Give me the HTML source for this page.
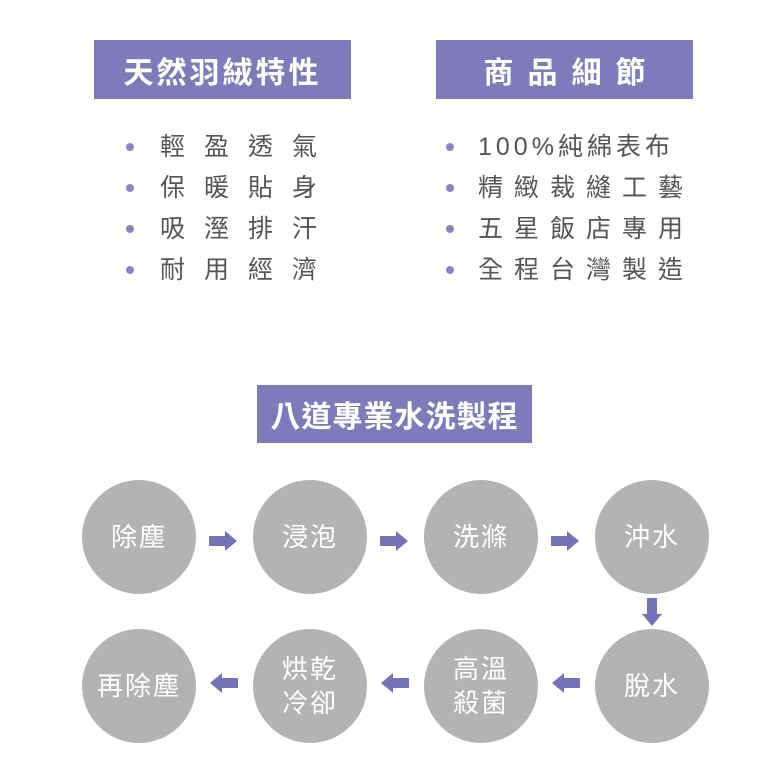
<!DOCTYPE html>
<html><head><meta charset="utf-8"><style>
body{margin:0;width:784px;height:784px;background:#fff;position:relative;overflow:hidden;font-family:"Liberation Sans","Noto Sans CJK TC",sans-serif}
.h{position:absolute;background:#7f7bbb;color:#fff;font-size:30px;font-weight:bold;text-align:center;display:flex;align-items:center;justify-content:center}
.li{position:absolute;font-size:25px;color:#555;white-space:nowrap;line-height:30px}
.dot{position:absolute;width:8px;height:8px;border-radius:50%;background:#8a86c2}
.c{position:absolute;width:114px;height:114px;border-radius:50%;background:#b3b3b3;color:#fff;font-size:26px;display:flex;align-items:center;justify-content:center;text-align:center;line-height:34px;letter-spacing:2px}
svg{position:absolute;left:0;top:0}
</style></head><body>
<div class="h" style="left:94px;top:40px;width:257px;height:59px;letter-spacing:3px">天然羽絨特性</div>
<div class="h" style="left:436px;top:40px;width:257px;height:59px;letter-spacing:14px;padding-left:14px;box-sizing:border-box">商品細節</div>
<div class="h" style="left:257px;top:385px;width:275px;height:58px;letter-spacing:1px">八道專業水洗製程</div>

<div class="dot" style="left:126px;top:143px"></div><div class="li" style="left:160px;top:132px;letter-spacing:19px">輕盈透氣</div>
<div class="dot" style="left:126px;top:184px"></div><div class="li" style="left:160px;top:173px;letter-spacing:19px">保暖貼身</div>
<div class="dot" style="left:126px;top:225px"></div><div class="li" style="left:160px;top:214px;letter-spacing:19px">吸溼排汗</div>
<div class="dot" style="left:126px;top:266px"></div><div class="li" style="left:160px;top:255px;letter-spacing:19px">耐用經濟</div>

<div class="dot" style="left:446px;top:143px"></div><div class="li" style="left:478px;top:132px;letter-spacing:4px">100%純綿表布</div>
<div class="dot" style="left:446px;top:184px"></div><div class="li" style="left:478px;top:173px;letter-spacing:11px">精緻裁縫工藝</div>
<div class="dot" style="left:446px;top:225px"></div><div class="li" style="left:478px;top:214px;letter-spacing:11px">五星飯店專用</div>
<div class="dot" style="left:446px;top:266px"></div><div class="li" style="left:478px;top:255px;letter-spacing:11px">全程台灣製造</div>

<div class="c" style="left:82px;top:480px">除塵</div>
<div class="c" style="left:253px;top:480px">浸泡</div>
<div class="c" style="left:424px;top:480px">洗滌</div>
<div class="c" style="left:595px;top:480px">沖水</div>
<div class="c" style="left:82px;top:629px">再除塵</div>
<div class="c" style="left:253px;top:629px">烘乾<br>冷卻</div>
<div class="c" style="left:424px;top:629px">高溫<br>殺菌</div>
<div class="c" style="left:595px;top:629px">脫水</div>

<svg width="784" height="784" fill="#7672b8">
<defs><path id="a" d="M0,-5 H16 V-10 L28,0 L16,10 V5 H0 Z"/></defs>
<use href="#a" transform="translate(209,541)"/>
<use href="#a" transform="translate(380,541)"/>
<use href="#a" transform="translate(551,541)"/>
<use href="#a" transform="translate(652,598) rotate(90)"/>
<use href="#a" transform="translate(238,683) rotate(180)"/>
<use href="#a" transform="translate(409,683) rotate(180)"/>
<use href="#a" transform="translate(580,683) rotate(180)"/>
</svg>
</body></html>
